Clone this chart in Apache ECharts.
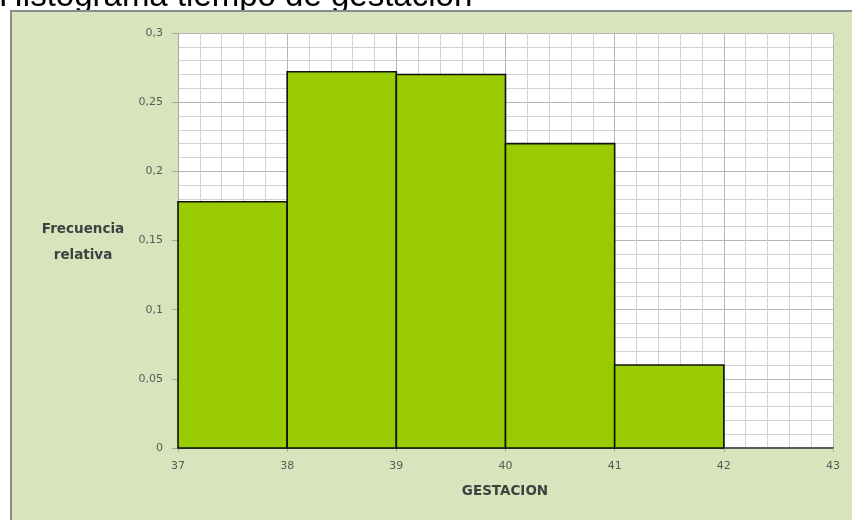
<!DOCTYPE html>
<html>
<head>
<meta charset="utf-8">
<script src="https://cdn.jsdelivr.net/npm/echarts@6/dist/echarts.min.js"></script>
<style>
html,body{margin:0;padding:0;background:#fff;}
#c{width:852px;height:520px;}
</style>
</head>
<body>
<div id="c"></div>
<script>
// Data
const binStarts = [37, 38, 39, 40, 41];
const binEnds   = [38, 39, 40, 41, 42];
const freq      = [0.178, 0.272, 0.270, 0.220, 0.060];
const xMin = 37, xMax = 43;
const yMin = 0, yMax = 0.3, yStep = 0.05;
const titleText = 'Histograma tiempo de gestacion';
const yName = ['Frecuencia', 'relativa'];
const xName = 'GESTACION';

const rows = binStarts.map((s, i) => [s, binEnds[i], freq[i]]);

const chart = echarts.init(document.getElementById('c'), null, {renderer: 'canvas'});
const labelFont = 'DejaVu Sans';
chart.setOption({
  backgroundColor: '#ffffff',
  animation: false,
  graphic: [
    {type: 'text', z: -20, x: -1, y: -3,
     style: {text: titleText, font: '33px "Liberation Sans", Arial, sans-serif', fill: '#000', align: 'left', verticalAlign: 'middle'}},
    {type: 'rect', z: -10, shape: {x: 11, y: 11, width: 880, height: 560},
     style: {fill: '#d8e4bc', stroke: '#8c8c8c', lineWidth: 2}},
    {type: 'text', z: 5, x: 83, y: 242,
     style: {text: yName.join('\n'), font: 'bold 13.5px "DejaVu Sans"', fill: '#404040', align: 'center', verticalAlign: 'middle', lineHeight: 26}},
    {type: 'text', z: 5, x: 505, y: 491,
     style: {text: xName, font: 'bold 13.5px "DejaVu Sans"', fill: '#404040', align: 'center', verticalAlign: 'middle'}}
  ],
  grid: {left: 178, top: 33, right: 19, bottom: 72, containLabel: false, outerBoundsMode: 'none',
         show: true, backgroundColor: '#ffffff', borderWidth: 0},
  xAxis: {
    type: 'value', min: xMin, max: xMax, interval: 1,
    axisLine: {show: true, onZero: false, lineStyle: {color: '#595959', width: 2}},
    axisTick: {show: true, length: 4, lineStyle: {color: '#a6a6a6'}},
    axisLabel: {margin: 13, fontSize: 11, color: '#595959', fontFamily: labelFont},
    splitLine: {show: true, lineStyle: {color: '#b5b5b5', width: 1}},
    minorTick: {show: false, splitNumber: 5},
    minorSplitLine: {show: true, lineStyle: {color: '#d2d2d2', width: 1}}
  },
  yAxis: {
    type: 'value', min: yMin, max: yMax, interval: yStep,
    axisLine: {show: true, lineStyle: {color: '#a6a6a6', width: 1}},
    axisTick: {show: true, length: 6, lineStyle: {color: '#a6a6a6'}},
    axisLabel: {margin: 15, fontSize: 11, color: '#595959', fontFamily: labelFont,
      formatter: v => String(+v.toFixed(2)).replace('.', ',')},
    splitLine: {show: true, lineStyle: {color: '#b5b5b5', width: 1}},
    minorTick: {show: false, splitNumber: 5},
    minorSplitLine: {show: true, lineStyle: {color: '#d2d2d2', width: 1}}
  },
  series: [{
    type: 'custom',
    data: rows,
    encode: {x: [0, 1], y: 2},
    renderItem: function (params, api) {
      const p0 = api.coord([api.value(0), api.value(2)]);
      const p1 = api.coord([api.value(1), 0]);
      return {
        type: 'rect',
        shape: {x: p0[0], y: p0[1], width: p1[0] - p0[0], height: p1[1] - p0[1]},
        style: {fill: '#99cc00', stroke: '#111', lineWidth: 1.6}
      };
    }
  }]
});
</script>
</body>
</html>
